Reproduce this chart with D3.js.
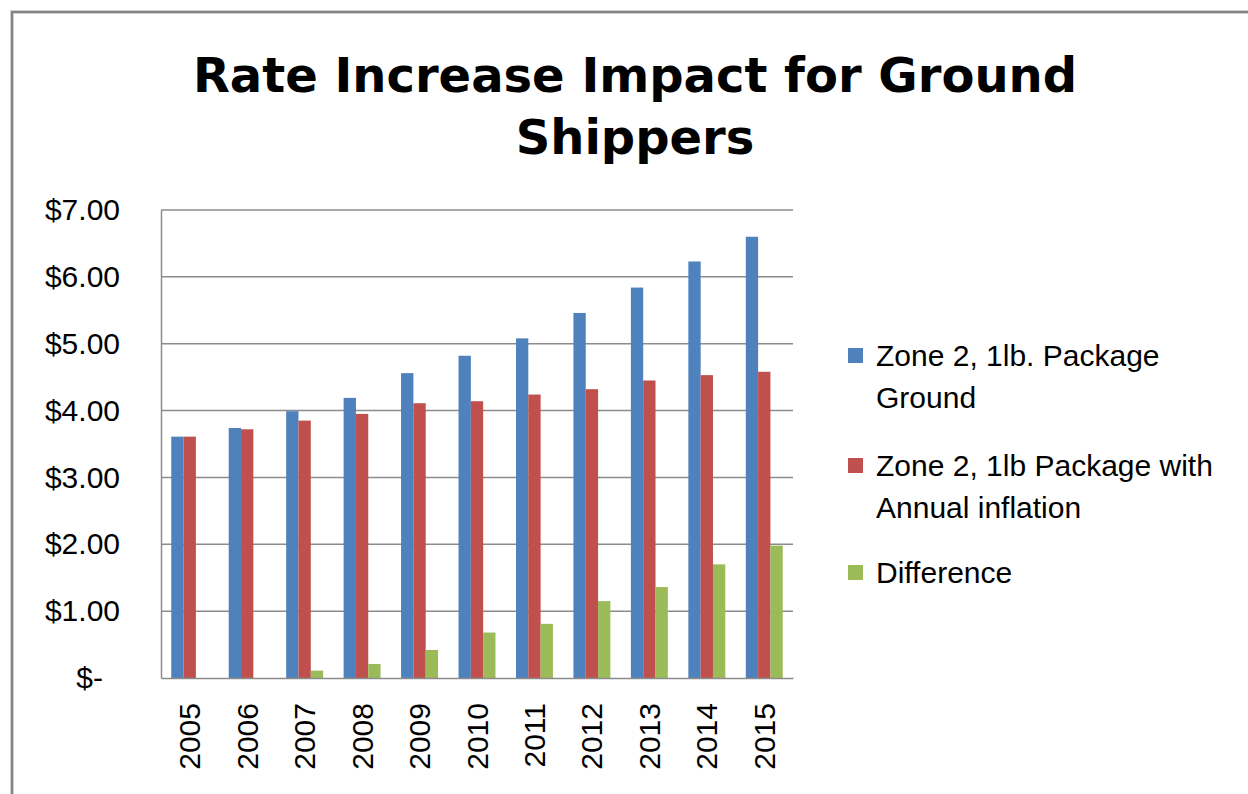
<!DOCTYPE html>
<html>
<head>
<meta charset="utf-8">
<script src="https://cdn.jsdelivr.net/npm/d3@7"></script>
<style>
  body { margin: 0; background: #fff; }
  svg { display: block; }
</style>
</head>
<body>
<div id="chart"></div>
<script>
const years = ["2005", "2006", "2007", "2008", "2009", "2010", "2011", "2012", "2013", "2014", "2015"];
const ground = [3.61, 3.74, 3.99, 4.19, 4.56, 4.82, 5.08, 5.46, 5.84, 6.23, 6.60];
const withInflation = [3.61, 3.72, 3.85, 3.95, 4.11, 4.14, 4.24, 4.32, 4.45, 4.53, 4.58];
const difference = [0, 0, 0.11, 0.21, 0.42, 0.68, 0.81, 1.15, 1.36, 1.70, 1.98];
const seriesNames = ["Zone 2, 1lb. Package Ground", "Zone 2, 1lb Package with Annual inflation", "Difference"];
const legendLines = [["Zone 2, 1lb. Package", "Ground"], ["Zone 2, 1lb Package with", "Annual inflation"], ["Difference"]];
const seriesColors = ["#4F81BD", "#C0504D", "#9BBB59"];
const yTicks = [0, 1, 2, 3, 4, 5, 6, 7];

const width = 1248, height = 794;
const plot = { left: 161, right: 793, top: 210, bottom: 678 };
const labelFont = "'Liberation Sans', Arial, sans-serif";

const svg = d3.select("#chart").append("svg")
    .attr("width", width)
    .attr("height", height);

// chart frame (only top and left edges are visible in the picture)
svg.append("path")
    .attr("d", `M12,${height} L12,12 L${width},12`)
    .attr("fill", "none")
    .attr("stroke", "#d0d0d0")
    .attr("stroke-width", 4);
svg.append("path")
    .attr("d", `M12,${height} L12,12 L${width},12`)
    .attr("fill", "none")
    .attr("stroke", "#858585")
    .attr("stroke-width", 2);

// title
const title = svg.append("text")
    .attr("text-anchor", "middle")
    .attr("font-family", "'DejaVu Sans', Verdana, sans-serif")
    .attr("font-weight", "bold")
    .attr("font-size", "48px")
    .attr("fill", "#000");
title.append("tspan").attr("x", 635).attr("y", 92).text("Rate Increase Impact for Ground");
title.append("tspan").attr("x", 635).attr("y", 154).text("Shippers");

const x = d3.scaleBand()
    .domain(years)
    .range([plot.left, plot.right])
    .paddingInner(0.357)
    .paddingOuter(0.357 / 2);

const xSub = d3.scaleBand()
    .domain(d3.range(seriesNames.length))
    .range([0, x.bandwidth()])
    .padding(0);

const y = d3.scaleLinear()
    .domain([0, 7])
    .range([plot.bottom, plot.top]);

// gridlines
svg.append("g")
    .selectAll("line")
    .data(yTicks.filter(d => d > 0))
    .join("line")
    .attr("x1", plot.left)
    .attr("x2", plot.right)
    .attr("y1", d => y(d))
    .attr("y2", d => y(d))
    .attr("stroke", "#8c8c8c")
    .attr("stroke-width", 1.5);

// bars
const allSeries = [ground, withInflation, difference];
const barData = [];
years.forEach((yr, i) => {
    allSeries.forEach((s, k) => barData.push({ year: yr, k: k, value: s[i] }));
});

svg.append("g")
    .selectAll("rect")
    .data(barData)
    .join("rect")
    .attr("x", d => x(d.year) + xSub(d.k))
    .attr("width", xSub.bandwidth())
    .attr("y", d => y(d.value))
    .attr("height", d => y(0) - y(d.value))
    .attr("fill", d => seriesColors[d.k]);

// y axis
const yAxis = svg.append("g")
    .attr("transform", `translate(${plot.left},0)`)
    .call(d3.axisLeft(y)
        .tickValues(yTicks)
        .tickSize(0)
        .tickPadding(41)
        .tickFormat(d => d === 0 ? "$-" : "$" + d3.format(".2f")(d)));
yAxis.select(".domain").attr("stroke", "#8c8c8c").attr("stroke-width", 1.5);
yAxis.selectAll("text")
    .attr("font-family", labelFont)
    .attr("font-size", "30px")
    .attr("fill", "#000")
    .attr("x", d => d === 0 ? -58 : -41);

// x axis
const xAxis = svg.append("g")
    .attr("transform", `translate(0,${plot.bottom})`)
    .call(d3.axisBottom(x).tickSize(0).tickPadding(0));
xAxis.select(".domain").attr("stroke", "#8c8c8c").attr("stroke-width", 1.5);
xAxis.selectAll("text")
    .attr("font-family", labelFont)
    .attr("font-size", "30px")
    .attr("fill", "#000")
    .attr("text-anchor", "end")
    .attr("transform", "rotate(-90)")
    .attr("x", -25)
    .attr("y", 0)
    .attr("dy", "0.35em");

// legend
const legendRowsY = [355, 465, 572];
const legend = svg.append("g");
legendLines.forEach((lines, i) => {
    const row = legend.append("g").attr("transform", `translate(848,${legendRowsY[i]})`);
    row.append("rect")
        .attr("x", 0)
        .attr("y", -7)
        .attr("width", 15)
        .attr("height", 15)
        .attr("fill", seriesColors[i]);
    const t = row.append("text")
        .attr("font-family", labelFont)
        .attr("font-size", "30px")
        .attr("fill", "#000");
    lines.forEach((ln, j) => {
        t.append("tspan")
            .attr("x", 28)
            .attr("y", j * 42)
            .attr("dy", "0.35em")
            .text(ln);
    });
});
</script>
</body>
</html>
